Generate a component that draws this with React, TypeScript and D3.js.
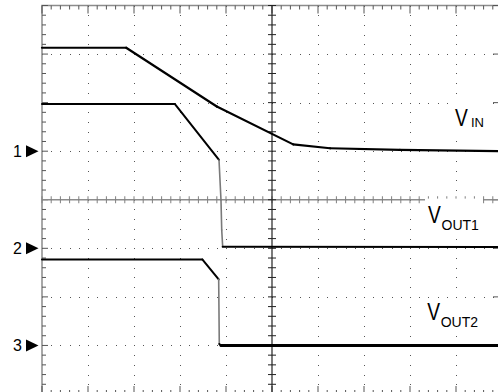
import * as d3 from "d3";

const W = 498;
const H = 392;

// time in divisions from screen centre, level in divisions above the channel's ground marker
const vinTime = [-5, -3.17, -1.2, 0.46, 1.26, 2.78, 5];
const vinLevel = [2.13, 2.13, 0.92, 0.14, 0.06, 0.025, 0];

const vout1Time = [-5, -2.11, -1.152, -1.109, -1.093, -1.072, 5];
const vout1Level = [2.97, 2.97, 1.82, 0.995, 0.377, 0.033, 0.027];

const vout2Time = [-5, -1.515, -1.159, -1.146, -1.109, 5];
const vout2Level = [1.77, 1.77, 1.36, 0.03, 0, 0];

// ground markers on the left edge (divisions from centre)
const groundLevels = [1, -1, -3];
const groundNames = ["1", "2", "3"];

const FONT = "'Liberation Sans', Arial, sans-serif";

export default function App() {
  const x = d3.scaleLinear().domain([-5, 5]).range([42, 502]);
  const y = d3.scaleLinear().domain([-4, 4]).range([394, 5.5]);

  const minorX = d3.range(-25, 26).map(k => k / 5);
  const minorY = d3.range(-20, 21).map(k => k / 5);
  const majorX = d3.range(-4, 5).filter(d => d !== 0);
  const majorY = d3.range(-3, 4).filter(d => d !== 0);
  const isMajor = (v: number) => Math.abs(v - Math.round(v)) < 1e-6;

  const traces = [
    { time: vinTime, level: vinLevel, ground: groundLevels[0], width: 2.2, tail: 2.2 },
    { time: vout1Time, level: vout1Level, ground: groundLevels[1], width: 2, tail: 2 },
    { time: vout2Time, level: vout2Level, ground: groundLevels[2], width: 2, tail: 3 }
  ];

  const line = d3
    .line<[number, number]>()
    .x(d => x(d[0]))
    .y(d => y(d[1]));

  const segments: { d: string; edge: boolean; w: number }[] = [];
  traces.forEach(tr => {
    for (let i = 0; i < tr.time.length - 1; i++) {
      const p0: [number, number] = [tr.time[i], tr.level[i] + tr.ground];
      const p1: [number, number] = [tr.time[i + 1], tr.level[i + 1] + tr.ground];
      const slope = Math.abs((p1[1] - p0[1]) / (p1[0] - p0[0]));
      const edge = slope > 8;
      const last = i === tr.time.length - 2;
      segments.push({ d: line([p0, p1]) || "", edge, w: last ? tr.tail : tr.width });
    }
  });

  return (
    <svg
      width={W}
      height={H}
      style={{ position: "absolute", left: 0, top: 0, background: "#fff" }}
    >
      {/* dotted graticule */}
      <g fill="#555">
        {majorX.map(t =>
          minorY.map(v => (
            <rect key={`vx${t}_${v}`} x={Math.round(x(t))} y={Math.round(y(v))} width={1} height={1} />
          ))
        )}
        {majorY.map(v =>
          minorX.map(t => (
            <rect key={`hy${v}_${t}`} x={Math.round(x(t))} y={Math.round(y(v))} width={1} height={1} />
          ))
        )}
      </g>

      {/* frame */}
      <rect x={x(-5)} y={y(4)} width={x(5) - x(-5)} height={y(-4) - y(4)} fill="none" stroke="#8c8c8c" strokeWidth={1.5} />

      {/* frame ticks */}
      <g stroke="#555" strokeWidth={1}>
        {minorX.map(t => {
          const len = isMajor(t) ? 8 : 4;
          return (
            <g key={`tx${t}`}>
              <line x1={x(t)} x2={x(t)} y1={y(4)} y2={y(4) + len} />
              <line x1={x(t)} x2={x(t)} y1={y(-4)} y2={y(-4) - len} />
            </g>
          );
        })}
        {minorY.map(v => (
          <g key={`ty${v}`}>
            <line x1={x(-5)} x2={x(-5) + (isMajor(v) ? 6 : 4)} y1={y(v)} y2={y(v)} />
            <line x1={x(5)} x2={x(5) - (isMajor(v) ? 9 : 4)} y1={y(v)} y2={y(v)} />
          </g>
        ))}
      </g>

      {/* centre axes */}
      <g>
        <line x1={x(-5)} x2={x(5)} y1={y(0)} y2={y(0)} stroke="#8c8c8c" strokeWidth={1.5} />
        {minorX.map(t => (
          <line key={`cx${t}`} x1={x(t)} x2={x(t)} y1={y(0) - 3.5} y2={y(0) + 3.5} stroke="#808080" strokeWidth={1} />
        ))}
        <line x1={x(0)} x2={x(0)} y1={y(4)} y2={y(-4)} stroke="#222" strokeWidth={1.2} />
        {minorY.map(v => (
          <line key={`cy${v}`} x1={x(0) - 4} x2={x(0) + 4} y1={y(v)} y2={y(v)} stroke="#222" strokeWidth={1} />
        ))}
      </g>

      {/* label backgrounds */}
      <g fill="#fff">
        <rect x={449} y={99} width={41} height={38} />
        <rect x={425} y={198.6} width={58} height={36} />
        <rect x={425} y={300} width={58} height={32} />
      </g>

      {/* traces */}
      <g fill="none" strokeLinejoin="round" strokeLinecap="round">
        {segments.map((s, i) => (
          <path
            key={i}
            d={s.d}
            stroke={s.edge ? "#7a7a7a" : "#000"}
            strokeWidth={s.edge ? 1.6 : s.w}
          />
        ))}
      </g>

      {/* channel ground markers */}
      <g fontFamily={FONT} fontSize={16}>
        {groundLevels.map((g, i) => (
          <g key={`gm${i}`}>
            <text x={22} y={y(g) + 6} textAnchor="end" fill="#000">
              {groundNames[i]}
            </text>
            <path d={`M26,${y(g) - 6}L38.5,${y(g)}L26,${y(g) + 6}Z`} fill="#000" />
          </g>
        ))}
      </g>

      {/* trace labels */}
      <g fontFamily={FONT} fill="#000">
        <text transform="translate(455,126) scale(0.8,1)" fontSize={24}>V</text>
        <text x={471} y={126.7} fontSize={13}>IN</text>

        <text transform="translate(428,223.3) scale(0.8,1)" fontSize={24}>V</text>
        <text x={441.5} y={230} fontSize={14}>OUT1</text>

        <text transform="translate(427.3,320) scale(0.8,1)" fontSize={24}>V</text>
        <text x={440.7} y={326.7} fontSize={14}>OUT2</text>
      </g>
    </svg>
  );
}
